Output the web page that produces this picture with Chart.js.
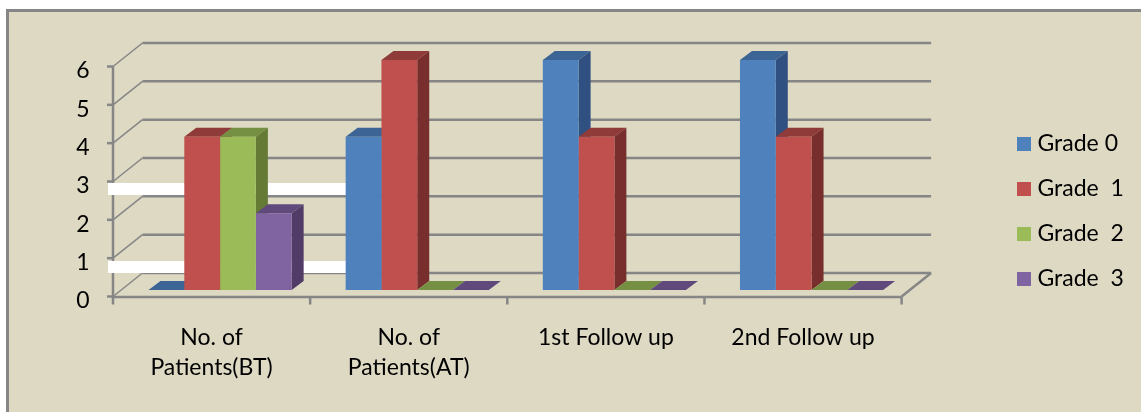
<!DOCTYPE html>
<html>
<head>
<meta charset="utf-8">
<title>Grades by visit</title>
<script src="https://cdn.jsdelivr.net/npm/chart.js@4/dist/chart.umd.min.js"></script>
<style>
  html, body { margin: 0; padding: 0; background: #fff; }
  #frame { position: absolute; left: 6px; top: 9px; width: 1135px; height: 403px; box-sizing: border-box;
           background: #DDD9C3; border-left: 3px solid #868686; border-top: 3px solid #868686; }
  #wrap { position: absolute; left: 0; top: 0; width: 1141px; height: 412px; }
</style>
</head>
<body>
<div id="frame"></div>
<div id="wrap"><canvas id="chart" width="1141" height="412"></canvas></div>
<script>
// --- Data ---
const categories = [["No. of", "Patients(BT)"], ["No. of", "Patients(AT)"], "1st Follow up", "2nd Follow up"];
const grade0 = [0, 4, 6, 6];
const grade1 = [4, 6, 4, 4];
const grade2 = [4, 0, 0, 0];
const grade3 = [2, 0, 0, 0];
const seriesNames = ["Grade 0", "Grade  1", "Grade  2", "Grade  3"];
const yTicks = [0, 1, 2, 3, 4, 5, 6];

// --- Colours: front, top face, side face ---
const frontColors = ["#4F81BD", "#C0504D", "#9BBB59", "#8064A2"];
const topColors = ["#3C6494", "#8E3B39", "#758F43", "#60497B"];
const sideColors = ["#2F5080", "#772E2C", "#647A35", "#513C68"];

// --- Fake 3D offsets, measured from the bars' plane ---
const FRONT = { x: -8.5, y: 6.5 };
const BACK = { x: 21, y: -17 };
const DEPTH = { x: 12, y: -9 };
const GRID = "#868686";

function line(ctx, x1, y1, x2, y2) {
  ctx.beginPath();
  ctx.moveTo(x1, y1);
  ctx.lineTo(x2, y2);
  ctx.stroke();
}

function face(ctx, color, pts) {
  ctx.fillStyle = color;
  ctx.beginPath();
  pts.forEach((p, i) => i ? ctx.lineTo(p[0], p[1]) : ctx.moveTo(p[0], p[1]));
  ctx.closePath();
  ctx.fill();
}

const wallsPlugin = {
  id: "walls",
  beforeDatasetsDraw(chart) {
    const { ctx, scales: { x, y } } = chart;
    const left = x.left, right = x.right;
    ctx.save();

    // back wall, side wall, floor
    ctx.strokeStyle = GRID;
    ctx.lineWidth = 2.5;
    yTicks.forEach(v => {
      const py = y.getPixelForValue(v);
      line(ctx, left + BACK.x, py + BACK.y, right + BACK.x, py + BACK.y);
      ctx.lineWidth = 1.5;
      line(ctx, left + FRONT.x, py + FRONT.y, left + BACK.x, py + BACK.y);
      ctx.lineWidth = 2.5;
      line(ctx, left + FRONT.x - 6, py + FRONT.y, left + FRONT.x, py + FRONT.y);
    });
    const y0 = y.getPixelForValue(0);
    const y6 = y.getPixelForValue(6);
    line(ctx, left + FRONT.x, y6 + FRONT.y, left + FRONT.x, y0 + FRONT.y);
    line(ctx, left + FRONT.x, y0 + FRONT.y + 0.5, right + FRONT.x, y0 + FRONT.y + 0.5);
    line(ctx, right + FRONT.x, y0 + FRONT.y, right + BACK.x, y0 + BACK.y);
    for (let i = 0; i <= categories.length; i++) {
      const px = left + FRONT.x + i * (right - left) / categories.length;
      line(ctx, px, y0 + FRONT.y, px, y0 + FRONT.y + 8);
    }

    // the two white bands across the left of the wall
    ctx.fillStyle = "#fff";
    ctx.fillRect(108, 183, 238, 12);
    ctx.fillRect(108, 261, 238, 12);

    // top and side faces, series by series; the flat fronts go on after all of them
    chart.getSortedVisibleDatasetMetas().sort((a, b) => a.index - b.index).forEach(meta => {
      const i = meta.index;
      meta.data.forEach(bar => {
        const l = bar.x - bar.width / 2, r = bar.x + bar.width / 2;
        const t = bar.y, b = bar.base;
        face(ctx, topColors[i], [[l, t], [l + DEPTH.x, t + DEPTH.y], [r + DEPTH.x, t + DEPTH.y], [r, t]]);
        if (b > t) {
          face(ctx, sideColors[i], [[r, t], [r + DEPTH.x, t + DEPTH.y], [r + DEPTH.x, b + DEPTH.y], [r, b]]);
        }
      });
    });
    ctx.restore();
  },
  // the legend is moved clear of the plot, where the original has it
  afterLayout(chart) {
    const lg = chart.legend;
    const w = lg.right - lg.left;
    lg.left = 1000;
    lg.right = 1000 + w;
    lg.top = 110.5;
  }
};

const seriesValues = [grade0, grade1, grade2, grade3];
const FONT = { family: "Lato", size: 23 };

new Chart(document.getElementById("chart"), {
  type: "bar",
  data: {
    labels: categories,
    datasets: seriesValues.map((vals, i) => ({
      label: seriesNames[i],
      data: vals,
      backgroundColor: frontColors[i],
      borderWidth: 0,
      categoryPercentage: 0.726,
      barPercentage: 1
    }))
  },
  options: {
    responsive: false,
    animation: false,
    layout: { padding: { top: 60, right: 97, bottom: 0, left: 0 } },
    plugins: {
      tooltip: { enabled: false },
      legend: {
        position: "right",
        align: "start",
        labels: {
          color: "#000",
          font: FONT,
          boxWidth: 4,
          boxHeight: 4,
          padding: 22,
          // thick stroke round a small box: keeps the text close to the swatch
          generateLabels: c => Chart.defaults.plugins.legend.labels.generateLabels(c).map(it =>
            ({ ...it, lineWidth: 10, strokeStyle: it.fillStyle }))
        }
      }
    },
    scales: {
      x: {
        grid: { display: false },
        border: { display: false },
        ticks: { color: "#000", font: { ...FONT, lineHeight: 1.3 }, padding: 25, labelOffset: -8.5, maxRotation: 0 },
        afterFit: s => { s.height = 412 - 290; }
      },
      y: {
        min: 0,
        max: 6,
        grid: { display: false },
        border: { display: false },
        ticks: { color: "#000", font: FONT, stepSize: 1, padding: 24, labelOffset: 11 },
        afterFit: s => { s.width = 121.5; }
      }
    }
  },
  plugins: [wallsPlugin]
});
</script>
</body>
</html>
